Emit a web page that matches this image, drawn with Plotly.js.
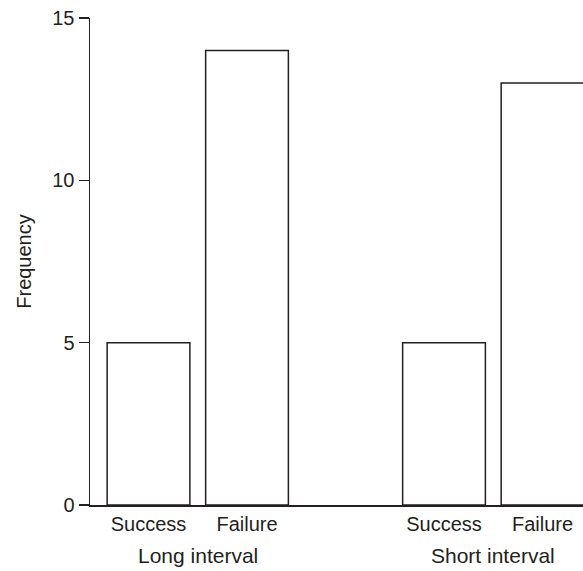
<!DOCTYPE html>
<html>
<head>
<meta charset="utf-8">
<script src="https://cdn.plot.ly/plotly-3.0.1.min.js"></script>
<style>html,body{margin:0;padding:0;background:#fff;}#chart{width:583px;height:571px;}</style>
</head>
<body>
<div id="chart"></div>
<script>
var groups = ["Long interval", "Short interval"];
var outcomes = ["Success", "Failure"];
var frequencies = [[5, 14], [5, 13]];
var yTicks = [0, 5, 10, 15];

var xs = [], ys = [], labels = [], groupCenters = [];
groups.forEach(function (g, gi) {
  outcomes.forEach(function (o, oi) {
    xs.push(gi * (outcomes.length + 1) + oi);
    ys.push(frequencies[gi][oi]);
    labels.push(o);
  });
  groupCenters.push(gi * (outcomes.length + 1) + (outcomes.length - 1) / 2);
});

var font = {family: "Liberation Sans, Arial, sans-serif", size: 20, color: "#231f20"};
var groupFont = {family: "Liberation Sans, Arial, sans-serif", size: 21, color: "#231f20"};

var trace = {
  type: "bar", x: xs, y: ys, width: 0.84,
  marker: {color: "#ffffff", line: {color: "#231f20", width: 1.5}},
  hoverinfo: "none", cliponaxis: true
};

var annotations = groups.map(function (g, i) {
  return {text: g, x: groupCenters[i], xref: "x", y: 0, yref: "paper", yshift: -37,
          yanchor: "top", showarrow: false, font: groupFont};
});

var layout = {
  width: 583, height: 571,
  margin: {l: 90, r: 0, t: 18, b: 66},
  paper_bgcolor: "#fff", plot_bgcolor: "#fff",
  showlegend: false,
  font: font,
  xaxis: {range: [-0.594, 4.411], tickvals: xs, ticktext: labels, showgrid: false, zeroline: false,
          showline: true, linecolor: "#231f20", linewidth: 1.5, ticks: "", tickfont: font},
  yaxis: {range: [0, 15], tickvals: yTicks, showgrid: false, zeroline: false, showline: true,
          linecolor: "#231f20", linewidth: 1.5, ticks: "outside", ticklen: 10, tickwidth: 1.5,
          tickcolor: "#231f20", tickfont: font,
          title: {text: "Frequency", font: font, standoff: 15}},
  annotations: annotations
};

Plotly.newPlot("chart", [trace], layout, {staticPlot: true, displayModeBar: false});
</script>
</body>
</html>
